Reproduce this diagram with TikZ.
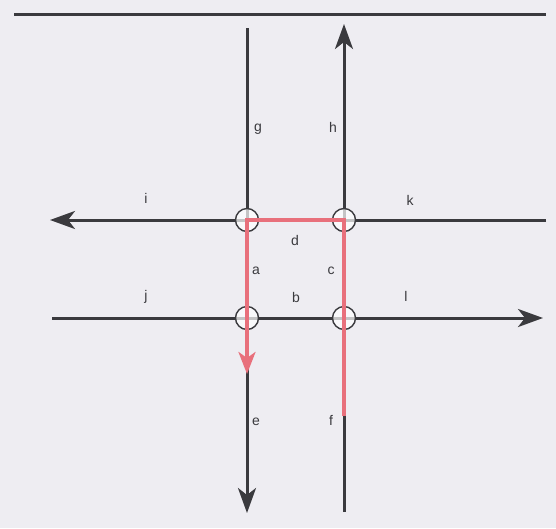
\documentclass[tikz,border=0pt]{standalone}
\usepackage{fontspec}
\setmainfont{Liberation Sans}
\usepackage{tikz}
\usetikzlibrary{arrows.meta}
\definecolor{road}{HTML}{3A3A3E}
\definecolor{route}{HTML}{E8707C}
\definecolor{paper}{HTML}{EEEDF2}

\begin{document}
\begin{tikzpicture}[x=1pt,y=-1pt,
        >={Stealth[length=25pt,width=18pt,inset=7pt]},
        street/.style={draw=road,line width=3pt},
        path route/.style={draw=route,line width=3.4pt,line join=miter},
        junction/.style={circle,draw=road,fill=white,fill opacity=0.7,line width=1.4pt,minimum size=23pt,inner sep=0pt},
        lbl/.style={text=road,inner sep=0pt,font=\fontsize{14}{16}\selectfont}
    ]
        \fill[paper] (0,0) rectangle (556,528);

        % street ends
        \coordinate (tw) at (14,14);
        \coordinate (te) at (546,14);
        \coordinate (gend) at (247,28);
        \coordinate (eend) at (247,513);
        \coordinate (fend) at (344,512);
        \coordinate (hend) at (344,24);
        \coordinate (kend) at (546,220);
        \coordinate (iend) at (50,220);
        \coordinate (jend) at (52,318);
        \coordinate (lend) at (543,318);

        \draw[street] (tw) -- (te);
        \draw[street,->] (gend) -- (eend);
        \draw[street,->] (fend) -- (hend);
        \draw[street,->] (kend) -- (iend);
        \draw[street,->] (jend) -- (lend);

        % junctions
        \node[junction] (ul) at (247,220) {};
        \node[junction] (ur) at (344,220) {};
        \node[junction] (ll) at (247,318) {};
        \node[junction] (lr) at (344,318) {};

        % route
        \coordinate (start) at (344,416);
        \coordinate (stop) at (247,374);
        \draw[path route,-{Stealth[length=22pt,width=17pt,inset=6pt]}] (start) -- (ur.center) -- (ul.center) -- (stop);

        % labels
        \node[lbl] (g) at (258,129) {g};
        \node[lbl] (h) at (333,127) {h};
        \node[lbl] (i) at (146,198) {i};
        \node[lbl] (k) at (410,200) {k};
        \node[lbl] (d) at (295,240) {d};
        \node[lbl] (a) at (256,271) {a};
        \node[lbl] (c) at (331,271) {c};
        \node[lbl] (j) at (146,297) {j};
        \node[lbl] (b) at (296,297) {b};
        \node[lbl] (l) at (406,296) {l};
        \node[lbl] (e) at (256,422) {e};
        \node[lbl] (f) at (331,420) {f};
    \end{tikzpicture}
\end{document}
